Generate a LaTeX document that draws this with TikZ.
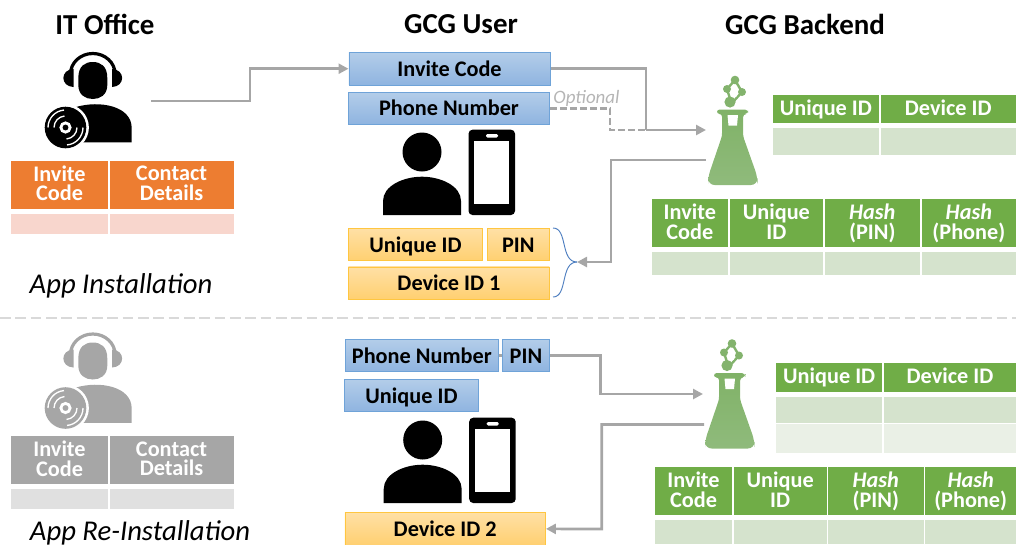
\documentclass[tikz,border=0pt]{standalone}
\usepackage{fontspec}
\setmainfont{Carlito}
\usetikzlibrary{arrows.meta,calc}
\definecolor{cOrange}{HTML}{ED7D31}
\definecolor{cOrangeL}{HTML}{F8D6CD}
\definecolor{cGreen}{HTML}{70AD47}
\definecolor{cGreenL}{HTML}{D5E3CD}
\definecolor{cGreenXL}{HTML}{EAF0E6}
\definecolor{cGray}{HTML}{A6A6A6}
\definecolor{cGrayL}{HTML}{E0E0E0}
\definecolor{cFlask}{HTML}{83B36D}
\definecolor{cArrow}{HTML}{A6A6A6}
\definecolor{cBlueB}{HTML}{6FA3D8}
\definecolor{cBlueT}{HTML}{B3CDE9}
\definecolor{cBlueD}{HTML}{8FB4E0}
\definecolor{cYelB}{HTML}{FFC640}
\definecolor{cYelT}{HTML}{FFE0A5}
\definecolor{cYelD}{HTML}{FFD071}
\definecolor{cGrayOpt}{HTML}{B5B5B5}
\definecolor{cSep}{HTML}{D9D9D9}
\definecolor{cBrace}{HTML}{4F7FC0}
\tikzset{
  x=0.75pt,y=-0.75pt,
  cellbase/.style={inner sep=0pt,outer sep=0pt,align=center,text=white,font=\fontsize{16.7}{14.4}\selectfont\bfseries},
  twoline/.style={text depth=1.9pt},
  oneline/.style={text height=12pt,text depth=3pt},
  orangehead/.style={cellbase,twoline,fill=cOrange},
  orangerow/.style={cellbase,fill=cOrangeL},
  grayhead/.style={cellbase,twoline,fill=cGray},
  grayrow/.style={cellbase,fill=cGrayL},
  greenhead/.style={cellbase,twoline,fill=cGreen},
  greenheadone/.style={cellbase,oneline,fill=cGreen},
  greenrow/.style={cellbase,fill=cGreenL},
  greenrowb/.style={cellbase,fill=cGreenXL},
  bluebox/.style={inner sep=0pt,draw=cBlueB,line width=0.7pt,top color=cBlueT,bottom color=cBlueD,text=black,text height=14.6pt,text depth=2.9pt,font=\fontsize{16.7}{18}\selectfont\bfseries},
  yellowbox/.style={inner sep=0pt,draw=cYelB,line width=0.7pt,top color=cYelT,bottom color=cYelD,text=black,text height=14.6pt,text depth=2.9pt,font=\fontsize{16.7}{18}\selectfont\bfseries},
  titletext/.style={inner sep=0pt,font=\fontsize{21.7}{24}\selectfont\bfseries},
  captext/.style={inner sep=0pt,anchor=base,font=\fontsize{21.5}{24}\selectfont\itshape},
  optext/.style={inner sep=0pt,text=cGrayOpt,font=\fontsize{14.2}{16}\selectfont\itshape},
  conn/.style={draw=cArrow,line width=2pt},
  connarrow/.style={conn,-{Triangle[length=7.5pt,width=7.5pt]}},
  conndash/.style={conn,dash pattern=on 5pt off 2.5pt},
  sepline/.style={draw=cSep,line width=1pt,dash pattern=on 8pt off 3.5pt},
  bracel/.style={draw=cBrace,line width=0.7pt},
}
% name, x1, y1, x2, y2, style, text
\newcommand{\tcell}[7]{%
  \pgfmathsetmacro\tcw{(#4-#2)*0.75}%
  \pgfmathsetmacro\tch{(#5-#3)*0.75}%
  \node[#6,minimum width=\tcw pt,minimum height=\tch pt,anchor=north west] (#1) at (#2,#3) {#7};}
% dx, dy, colour
\newcommand{\headseticon}[3]{%
  \begin{scope}[shift={(#1,#2)}]
    \draw[#3,line width=2.4pt] (70.5,74) arc[start angle=180,end angle=360,x radius=22.3,y radius=20.5];
    \fill[#3] (78.3,78) .. controls (78.3,66) and (85,62) .. (92.8,62) .. controls (100.6,62) and (107.3,66) .. (107.3,78) -- (107.3,85) .. controls (107.3,95) and (100,99) .. (92.8,99) .. controls (85.6,99) and (78.3,95) .. (78.3,85) -- cycle;
    \fill[#3] (73.5,69) .. controls (60,69.5) and (60,86.5) .. (73.5,87) -- cycle;
    \fill[#3] (112,69) .. controls (125.5,69.5) and (125.5,86.5) .. (112,87) -- cycle;
    \fill[#3] (76,107) .. controls (100,100) and (131.7,106) .. (131.7,128) -- (131.7,142.3) -- (70,142.3) -- cycle;
    \fill[white] (65.5,127.5) circle[radius=23.4];
    \fill[#3] (65.5,127.5) circle[radius=20.8];
    \draw[white,line width=2.1pt] (65.5,127.5) circle[radius=4.6];
    \draw[white,line width=1pt] (54,127.5) arc[start angle=180,end angle=265,radius=11.5];
    \draw[white,line width=1pt] (48,127.5) arc[start angle=180,end angle=265,radius=17.5];
    \draw[white,line width=1pt] (77,127.5) arc[start angle=0,end angle=85,radius=11.5];
    \draw[white,line width=1pt] (83,127.5) arc[start angle=0,end angle=85,radius=17.5];
  \end{scope}}
% dx, dy
\newcommand{\usericon}[2]{%
  \begin{scope}[shift={(#1,#2)}]
    \fill[black] (422,152) circle[radius=19.5];
    \fill[black] (383,215) -- (383,201) .. controls (383,186) and (403,176.7) .. (422,176.7) .. controls (441,176.7) and (461,186) .. (461,201) -- (461,215) -- cycle;
    \fill[black,rounded corners=3pt] (468.5,129.7) rectangle (515,215);
    \fill[white] (474.3,141) rectangle (509.3,203.7);
    \fill[white,rounded corners=1pt] (486,134) rectangle (498,137.5);
  \end{scope}}
% dx, dy
\newcommand{\flaskicon}[2]{%
  \begin{scope}[shift={(#1,#2)}]
    \draw[cFlask,line width=1.8pt] (735,80) -- (742,92) -- (733,102);
    \draw[cFlask,line width=1.8pt] (735,80) -- (727,89) -- (731,102);
    \fill[cFlask] (730,102) circle[radius=5.6];
    \fill[cFlask] (727,89) circle[radius=4];
    \fill[cFlask] (742,92) circle[radius=4];
    \fill[cFlask] (735,80) circle[radius=4.3];
    \fill[white] (733,87) .. controls (737,90) and (731,94) .. (735,97) -- (737,96) .. controls (734,93) and (739,90) .. (735,86) -- cycle;
    \shade[top color=cFlask!85!cGreen,bottom color=cFlask!90!white,rounded corners=2.5pt]
      (717,109.5) -- (748,109.5) -- (748,114) -- (743,114) -- (743,136) [rounded corners=5pt] -- (757.5,177) [rounded corners=5pt] -- (757.5,185) -- (708,185) -- (708,177) [rounded corners=2pt] -- (722,136) -- (722,114) -- (717,114) -- cycle;
    \fill[white] (727.5,115) -- (738,115) -- (737,125.5) -- (728.5,125.5) -- cycle;
  \end{scope}}
\begin{document}
\begin{tikzpicture}
\useasboundingbox (0,0) rectangle (1016,544);
% separator
\coordinate (sepa) at (0,318);
\coordinate (sepb) at (1016,318);
\draw[sepline] (sepa) -- (sepb);
% titles
\node[titletext] (t1) at (105,24) {IT Office};
\node[titletext] (t2) at (461,24) {GCG User};
\node[titletext] (t3) at (805,24) {GCG Backend};
% IT office icons
\headseticon{0}{0}{black}
\headseticon{0}{280.5}{cGray}
% orange table
\tcell{oa}{11}{160.5}{108}{208.5}{orangehead}{Invite\\Code}
\tcell{ob}{109.5}{160.5}{233.5}{208.5}{orangehead}{Contact\\Details}
\tcell{oc}{11}{213.5}{108}{233.5}{orangerow}{}
\tcell{od}{109.5}{213.5}{233.5}{233.5}{orangerow}{}
% gray table
\tcell{ga}{11}{436}{108}{484}{grayhead}{Invite\\Code}
\tcell{gb}{109.5}{436}{233.5}{484}{grayhead}{Contact\\Details}
\tcell{gc}{11}{489.3}{108}{509}{grayrow}{}
\tcell{gd}{109.5}{489.3}{233.5}{509}{grayrow}{}
% captions
\node[captext] (c1) at (121,293) {App Installation};
\node[captext] (c2) at (140,540.5) {App Re-Installation};
% user icons
\usericon{0}{0}
\usericon{0.7}{288}
% upper user boxes
\tcell{inv}{348.5}{52}{549.7}{84.5}{bluebox}{Invite Code}
\tcell{ph}{348}{91.7}{549}{123.7}{bluebox}{Phone Number}
\node[optext] (opt) at (586.5,98) {Optional};
\tcell{uid}{348}{228}{482}{260}{yellowbox}{Unique ID}
\tcell{pin}{487}{228}{548.7}{260}{yellowbox}{PIN}
\tcell{dev}{348}{266.5}{549}{298.5}{yellowbox}{Device ID 1}
% lower user boxes
\tcell{phb}{345}{339}{497.7}{371}{bluebox}{Phone Number}
\tcell{pinb}{502.3}{339}{548.7}{371}{bluebox}{PIN}
\tcell{uidb}{344}{378.7}{478}{411}{bluebox}{Unique ID}
\tcell{devb}{344.5}{512.3}{545}{544.5}{yellowbox}{Device ID 2}
% flasks
\flaskicon{0}{0}
\flaskicon{-3}{263.5}
% upper green tables
\tcell{ua}{772.7}{95}{879}{123}{greenheadone}{Unique ID}
\tcell{ub}{880.5}{95}{1016}{123}{greenheadone}{Device ID}
\tcell{uc}{772.7}{128}{879}{154.7}{greenrow}{}
\tcell{ud}{880.5}{128}{1016}{154.7}{greenrow}{}
\tcell{la}{651.7}{199}{728}{246.7}{greenhead}{Invite\\Code}
\tcell{lb}{729.7}{199}{823}{246.7}{greenhead}{Unique\\ID}
\tcell{lc}{824.5}{199}{920}{246.7}{greenhead}{\itshape Hash\\(PIN)}
\tcell{ld}{921.7}{199}{1016}{246.7}{greenhead}{\itshape Hash\\(Phone)}
\tcell{le}{651.7}{251.7}{728}{275.3}{greenrow}{}
\tcell{lf}{729.7}{251.7}{823}{275.3}{greenrow}{}
\tcell{lg}{824.5}{251.7}{920}{275.3}{greenrow}{}
\tcell{lh}{921.7}{251.7}{1016}{275.3}{greenrow}{}
% lower green tables
\tcell{va}{776}{363}{882.3}{391.7}{greenheadone}{Unique ID}
\tcell{vb}{884}{363}{1016}{391.7}{greenheadone}{Device ID}
\tcell{vc}{776}{396.7}{882.3}{422.7}{greenrow}{}
\tcell{vd}{884}{396.7}{1016}{422.7}{greenrow}{}
\tcell{ve}{776}{424.3}{882.3}{452.7}{greenrowb}{}
\tcell{vf}{884}{424.3}{1016}{452.7}{greenrowb}{}
\tcell{ma}{655}{467}{732}{515}{greenhead}{Invite\\Code}
\tcell{mb}{733.7}{467}{826.7}{515}{greenhead}{Unique\\ID}
\tcell{mc}{828}{467}{923.5}{515}{greenhead}{\itshape Hash\\(PIN)}
\tcell{md}{925.3}{467}{1016}{515}{greenhead}{\itshape Hash\\(Phone)}
\tcell{me}{655}{520}{732}{543.5}{greenrow}{}
\tcell{mf}{733.7}{520}{826.7}{543.5}{greenrow}{}
\tcell{mg}{828}{520}{923.5}{543.5}{greenrow}{}
\tcell{mh}{925.3}{520}{1016}{543.5}{greenrow}{}
% connector points
\coordinate (itout) at (151,101);
\coordinate (k1) at (250,101);
\coordinate (j1) at (646,130);
\coordinate (j2) at (610,130);
\coordinate (f1in) at (706,130);
\coordinate (f1out) at (706,160);
\coordinate (k2) at (611,262);
\coordinate (bt) at (577,262);
\coordinate (f2in) at (703,394);
\coordinate (k3) at (600.7,394);
\coordinate (f2out) at (704,424.5);
\coordinate (k4) at (601.7,529);
\coordinate (bta) at (553,228);
\coordinate (btb) at (553,297);
% connectors
\draw[connarrow] (itout) -- (k1) |- (inv.west);
\draw[conndash] (ph.east) -| (j2) -- (j1);
\draw[conn] (inv.east) -| (j1);
\draw[connarrow] (j1) -- (f1in);
\draw[connarrow] (f1out) -| (k2) -- (bt);
\draw[conn] (phb.east) -- (pinb.west);
\draw[connarrow] (pinb.east) -| (k3) -- (f2in);
\draw[connarrow] (f2out) -| (k4) -- (devb.east);
% brace
\draw[bracel] (bta) .. controls (568,228) and (560,262) .. (bt);
\draw[bracel] (btb) .. controls (568,297) and (560,262) .. (bt);
\end{tikzpicture}
\end{document}
